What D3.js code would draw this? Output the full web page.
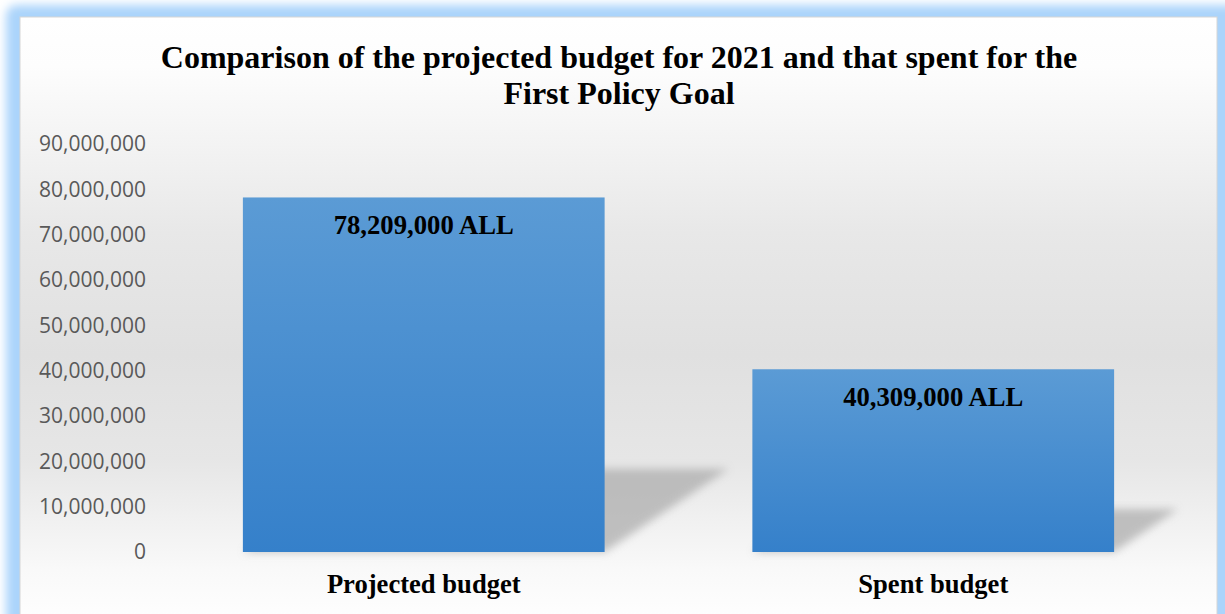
<!DOCTYPE html>
<html>
<head>
<meta charset="utf-8">
<script src="https://cdn.jsdelivr.net/npm/d3@7"></script>
<style>
  html, body { margin: 0; padding: 0; background: #ffffff; }
  svg { display: block; }
</style>
</head>
<body>
<svg id="chart" width="1225" height="614"></svg>
<script>
// Budget figures for the First Policy Goal (ALL)
const categories = ["Projected budget", "Spent budget"];
const values = [78209000, 40309000];
const valueLabels = ["78,209,000 ALL", "40,309,000 ALL"];
const yTicks = [0, 10000000, 20000000, 30000000, 40000000, 50000000, 60000000, 70000000, 80000000, 90000000];
const titleLines = ["Comparison of the projected budget for 2021 and that spent for the", "First Policy Goal"];

const W = 1225, H = 614;
const svg = d3.select("#chart");
const defs = svg.append("defs");

// Frame glow
const glow = defs.append("filter").attr("id", "glow")
  .attr("x", "-5%").attr("y", "-5%").attr("width", "110%").attr("height", "110%");
glow.append("feGaussianBlur").attr("stdDeviation", 5);

// Panel background: white at top, grey in the middle, white at the bottom
const bg = defs.append("linearGradient").attr("id", "bg")
  .attr("x1", 0).attr("y1", 0).attr("x2", 0).attr("y2", 1);
[[0, "#ffffff"], [0.08, "#fdfdfd"], [0.35, "#e8e8e8"], [0.55, "#e0e0e0"], [0.72, "#e6e6e6"], [0.9, "#f9f9f9"], [1, "#ffffff"]]
  .forEach(([o, c]) => bg.append("stop").attr("offset", o).attr("stop-color", c));

// Bar fill
const barGrad = defs.append("linearGradient").attr("id", "barGrad")
  .attr("x1", 0).attr("y1", 0).attr("x2", 0).attr("y2", 1);
barGrad.append("stop").attr("offset", 0).attr("stop-color", "#5b9bd5");
barGrad.append("stop").attr("offset", 1).attr("stop-color", "#3580ca");

// Shadow blur
const shBlur = defs.append("filter").attr("id", "shBlur")
  .attr("x", "-20%").attr("y", "-20%").attr("width", "140%").attr("height", "140%");
shBlur.append("feGaussianBlur").attr("stdDeviation", 4);

// Outer blue frame
svg.append("rect").attr("x", 6).attr("y", 5).attr("width", W + 20).attr("height", H + 20)
  .attr("rx", 10).attr("fill", "#abd4fb").attr("filter", "url(#glow)");
svg.append("rect").attr("x", 20).attr("y", 17).attr("width", 1197).attr("height", H)
  .attr("fill", "url(#bg)").attr("stroke", "#d6d6d6").attr("stroke-width", 1);

// Scales
const y = d3.scaleLinear().domain([0, 90000000]).range([552, 144]);
const x = d3.scaleBand().domain(categories).range([169, 1188]).paddingInner(0.29).paddingOuter(0.145);

// Y axis labels
const yAxis = d3.axisLeft(y).tickValues(yTicks).tickFormat(d3.format(",")).tickSize(0).tickPadding(0);
const gy = svg.append("g").attr("transform", "translate(146,0)").call(yAxis);
gy.select(".domain").remove();
gy.selectAll("text")
  .attr("font-family", "'Open Sans', sans-serif")
  .attr("font-size", 21)
  .attr("fill", "#595959");

// Bar shadows, cast behind and to the right
const shadows = svg.append("g");
categories.forEach((c, i) => {
  const x0 = x(c), bw = x.bandwidth();
  const base = y(0);
  const h = base - y(values[i]);
  const sh = h * 0.235, dx = h * 0.35;
  const pts = [[x0, base], [x0 + bw, base], [x0 + bw + dx, base - sh], [x0 + dx, base - sh]];
  shadows.append("path")
    .attr("d", d3.line()(pts) + "Z")
    .attr("fill", "#a9a9a9")
    .attr("opacity", 0.7)
    .attr("filter", "url(#shBlur)");
});

// Bars
svg.append("g").selectAll("rect").data(categories).join("rect")
  .attr("x", d => x(d))
  .attr("y", (d, i) => y(values[i]))
  .attr("width", x.bandwidth())
  .attr("height", (d, i) => y(0) - y(values[i]))
  .attr("fill", "url(#barGrad)");

// Value labels inside bars
svg.append("g").selectAll("text").data(categories).join("text")
  .attr("x", d => x(d) + x.bandwidth() / 2)
  .attr("y", (d, i) => y(values[i]) + 37)
  .attr("text-anchor", "middle")
  .attr("font-family", "'Liberation Serif', 'Times New Roman', serif")
  .attr("font-weight", "bold")
  .attr("font-size", 26.7)
  .attr("fill", "#000")
  .text((d, i) => valueLabels[i]);

// Category labels
const xAxis = d3.axisBottom(x).tickSize(0).tickPadding(0);
const gx = svg.append("g").attr("transform", "translate(0,593)").call(xAxis);
gx.select(".domain").remove();
gx.selectAll("text")
  .attr("dy", 0)
  .attr("font-family", "'Liberation Serif', 'Times New Roman', serif")
  .attr("font-weight", "bold")
  .attr("font-size", 26.6)
  .attr("fill", "#000");

// Title
svg.append("g").selectAll("text").data(titleLines).join("text")
  .attr("x", 619)
  .attr("y", (d, i) => 68 + i * 36)
  .attr("text-anchor", "middle")
  .attr("font-family", "'Liberation Serif', 'Times New Roman', serif")
  .attr("font-weight", "bold")
  .attr("font-size", 32)
  .attr("fill", "#000")
  .text(d => d);
</script>
</body>
</html>
